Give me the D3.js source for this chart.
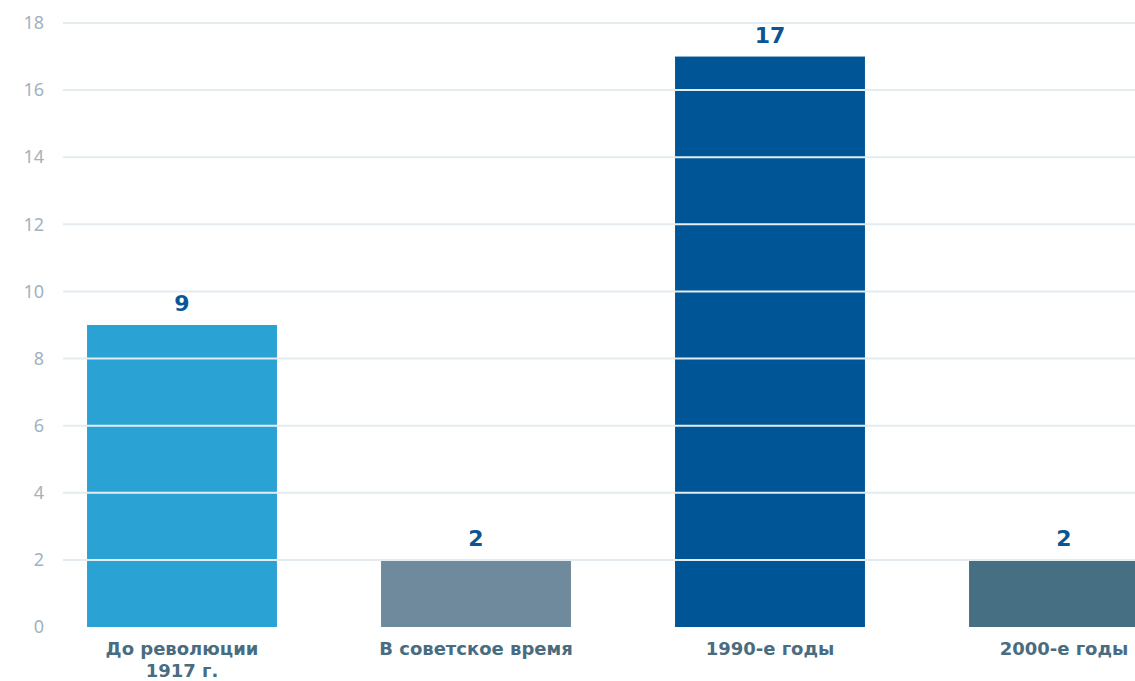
<!DOCTYPE html>
<html><head><meta charset="utf-8">
<script src="https://cdn.jsdelivr.net/npm/d3@7"></script>
<style>html,body{margin:0;padding:0;background:#fff;overflow:hidden}</style>
</head><body>
<svg id="c" width="1135" height="681"></svg>
<script>
const categories = [["До революции","1917 г."],["В советское время"],["1990-е годы"],["2000-е годы"]];
const values = [9, 2, 17, 2];
const colors = ["#2aa2d4", "#6f8a9c", "#005596", "#476f84"];
const yTicks = [0, 2, 4, 6, 8, 10, 12, 14, 16, 18];

const svg = d3.select("#c");
const font = "'Noto Sans', 'Open Sans', sans-serif";
const boldFont = "'DejaVu Sans', 'Noto Sans', sans-serif";
const x = d3.scaleBand().domain(d3.range(values.length)).range([35, 1211]).paddingInner(0.354).paddingOuter(0.177);
const y = d3.scaleLinear().domain([0, 18]).range([627, 23]);

svg.selectAll("rect.bar").data(values).join("rect")
  .attr("x", (d,i) => x(i)).attr("width", x.bandwidth())
  .attr("y", d => y(d)).attr("height", d => y(0) - y(d))
  .attr("fill", (d,i) => colors[i]);

const yAxis = d3.axisLeft(y).tickValues(yTicks).tickSize(0).tickPadding(0);
const ga = svg.append("g").attr("transform", "translate(44,0)").call(yAxis);
ga.select(".domain").remove();
ga.attr("font-size", null).attr("font-family", null);
ga.selectAll("text").attr("font-family", font).attr("font-size", 18).attr("fill", "#a2b2bf");

svg.selectAll("line.grid").data(yTicks.filter(t => t > 0)).join("line")
  .attr("x1", 63).attr("x2", 1135)
  .attr("y1", d => y(d)).attr("y2", d => y(d))
  .attr("stroke", "#e4ecef").attr("stroke-width", 2);

svg.selectAll("text.val").data(values).join("text")
  .attr("x", (d,i) => x(i) + x.bandwidth()/2).attr("y", d => y(d) - 14)
  .attr("text-anchor", "middle").attr("font-family", boldFont).attr("font-weight", "bold")
  .attr("font-size", 22).attr("fill", "#0a5596").text(d => d);

const cl = svg.selectAll("text.cat").data(categories).join("text")
  .attr("text-anchor", "middle").attr("font-family", boldFont).attr("font-weight", "bold")
  .attr("font-size", 18).attr("fill", "#4a6c80");
cl.each(function(d,i){
  d3.select(this).selectAll("tspan").data(d).join("tspan")
    .attr("x", x(i) + x.bandwidth()/2).attr("y", (t,j) => 655 + j*22).text(t => t);
});
</script>
</body></html>
